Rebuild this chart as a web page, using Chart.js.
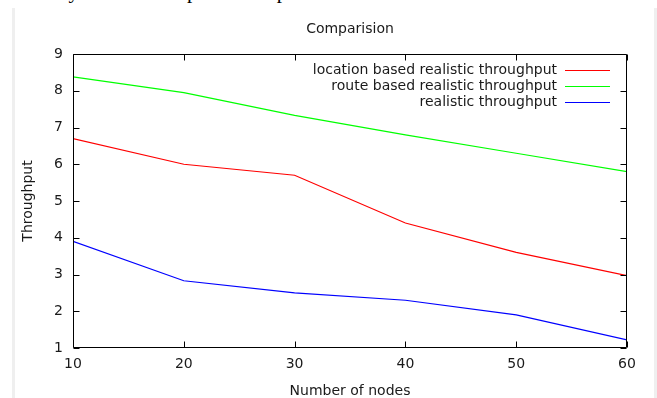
<!DOCTYPE html>
<html>
<head>
<meta charset="utf-8">
<script src="https://cdn.jsdelivr.net/npm/chart.js@4.4.1/dist/chart.umd.min.js"></script>
<style>
  html, body { margin: 0; padding: 0; background: #fff; }
  #wrap { position: relative; width: 657px; height: 398px; overflow: hidden; background: #fff; }
  #chartCanvas { position: absolute; left: 0; top: 0; }
  .strip { position: absolute; top: 8px; bottom: 0; width: 3px; background: #efefef; }
  #cut { position: absolute; left: 22px; top: -21px; font: 21px "Liberation Serif", serif; white-space: nowrap; color: #000; }
</style>
</head>
<body>
<div id="wrap">
  <div id="cut">clearly and the comparison of performance shows which one is better.</div>
  <div class="strip" style="left:12px"></div>
  <div class="strip" style="left:654px"></div>
  <canvas id="chartCanvas" width="657" height="398"></canvas>
</div>
<script>
const nodes = [10, 20, 30, 40, 50, 60];
const locationBased = [6.7, 6.0, 5.7, 4.4, 3.6, 2.97];
const routeBased = [8.38, 7.95, 7.33, 6.8, 6.3, 5.8];
const realistic = [3.9, 2.83, 2.5, 2.3, 1.9, 1.22];
const seriesNames = ["location based realistic throughput", "route based realistic throughput", "realistic throughput"];
const seriesColors = ["#ff0000", "#00ff00", "#0000ff"];

const FONT = "'DejaVu Sans', sans-serif";
const TEXT = "#1a1a1a";

function points(values) {
  return nodes.map((n, i) => ({ x: n, y: values[i] }));
}

// box with inward ticks on all four sides (gnuplot style)
const frame = {
  id: "frame",
  afterDatasetsDraw(chart) {
    const { ctx, chartArea: a, scales: { x, y } } = chart;
    const L = Math.round(a.left) + 0.5, R = Math.round(a.right) - 0.5;
    const T = Math.round(a.top) + 0.5, B = Math.round(a.bottom) - 0.5;
    ctx.save();
    ctx.strokeStyle = "#000";
    ctx.lineWidth = 1;
    ctx.beginPath();
    ctx.rect(L, T, R - L, B - T);
    x.ticks.forEach(t => {
      const px = Math.round(x.getPixelForValue(t.value)) + 0.5;
      ctx.moveTo(px, B); ctx.lineTo(px, B - 6);
      ctx.moveTo(px, T); ctx.lineTo(px, T + 6);
    });
    y.ticks.forEach(t => {
      const py = Math.round(y.getPixelForValue(t.value)) + 0.5;
      ctx.moveTo(L, py); ctx.lineTo(L + 6, py);
      ctx.moveTo(R, py); ctx.lineTo(R - 6, py);
    });
    ctx.stroke();
    ctx.restore();
  }
};

// key in the top right corner of the plot
const key = {
  id: "key",
  afterDraw(chart) {
    const { ctx, chartArea: a } = chart;
    ctx.save();
    ctx.font = "14px " + FONT;
    ctx.textAlign = "right";
    ctx.textBaseline = "middle";
    chart.data.datasets.forEach((ds, i) => {
      const yy = Math.round(a.top + 16 + i * 16.2) + 0.5;
      ctx.fillStyle = TEXT;
      ctx.fillText(ds.label, a.right - 70, yy);
      ctx.strokeStyle = ds.borderColor;
      ctx.lineWidth = 1.2;
      ctx.beginPath();
      ctx.moveTo(a.right - 62, yy);
      ctx.lineTo(a.right - 17, yy);
      ctx.stroke();
    });
    ctx.restore();
  }
};

const ctx = document.getElementById("chartCanvas").getContext("2d");
new Chart(ctx, {
  type: "line",
  data: {
    datasets: [
      { label: seriesNames[0], data: points(locationBased), borderColor: seriesColors[0] },
      { label: seriesNames[1], data: points(routeBased), borderColor: seriesColors[1] },
      { label: seriesNames[2], data: points(realistic), borderColor: seriesColors[2] }
    ].map(d => Object.assign(d, { borderWidth: 1.2, pointRadius: 0, tension: 0, fill: false }))
  },
  options: {
    responsive: false,
    animation: false,
    layout: { padding: { left: 0, right: 30, top: 0, bottom: 0 } },
    plugins: {
      legend: { display: false },
      tooltip: { enabled: false },
      title: {
        display: true,
        fullSize: false,
        text: "Comparision",
        color: TEXT,
        font: { family: FONT, size: 14, weight: "normal" },
        padding: { top: 20.5, bottom: 16.7 }
      }
    },
    scales: {
      x: {
        type: "linear",
        min: 10, max: 60,
        ticks: { stepSize: 10, color: TEXT, font: { family: FONT, size: 14 }, padding: 8.3, maxRotation: 0 },
        grid: { display: false, drawTicks: false },
        border: { display: false },
        title: { display: true, text: "Number of nodes", color: TEXT, font: { family: FONT, size: 14 }, padding: { top: 0, bottom: -2 } },
        afterFit(s) { s.height = 50; }
      },
      y: {
        min: 1, max: 9,
        ticks: { stepSize: 1, color: TEXT, font: { family: FONT, size: 14 }, padding: 10 },
        grid: { display: false, drawTicks: false },
        border: { display: false },
        title: { display: true, text: "Throughput", color: TEXT, font: { family: FONT, size: 14 }, padding: { top: 20, bottom: 0 } },
        afterFit(s) { s.width = 73; }
      }
    }
  },
  plugins: [frame, key]
});
</script>
</body>
</html>
